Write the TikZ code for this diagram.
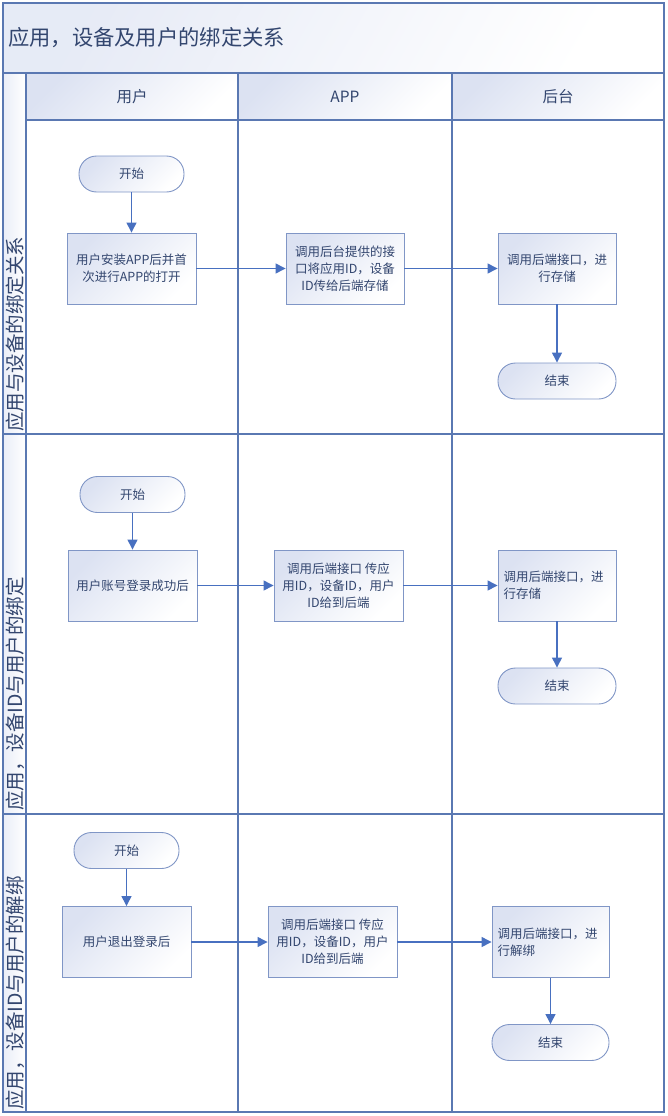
\documentclass[tikz,border=0pt]{standalone}
\usepackage{fontspec}
\setmainfont{Noto Sans CJK SC}
\usetikzlibrary{arrows.meta}
\definecolor{laneline}{HTML}{5A78B2}
\definecolor{arrowc}{HTML}{4870C0}
\definecolor{boxline}{HTML}{8096C6}
\definecolor{txtc}{HTML}{33466F}
\definecolor{shadec}{HTML}{DCE2F2}
\begin{document}
\begin{tikzpicture}[x=1pt,y=-1pt,
  shadefill/.style={top color=shadec, bottom color=white, shading angle=45},
  proc/.style={rectangle, draw=boxline, line width=0.9pt, shadefill, text=txtc,
    minimum height=71pt, minimum width=129pt, inner xsep=5pt, inner ysep=3pt,
    align=center, font=\fontsize{12.5}{17}\selectfont},
  procl/.style={proc, align=left, minimum width=118pt, text width=107pt},
  term/.style={rectangle, rounded corners=17.5pt, draw=boxline, line width=0.9pt, shadefill, text=txtc,
    minimum height=36pt, minimum width=105pt, font=\fontsize{12.5}{15}\selectfont},
  flow/.style={draw=arrowc, line width=1.3pt, -{Triangle[length=10pt,width=10pt]}},
  lanelabel/.style={rotate=90, anchor=west, text=txtc, inner sep=0pt,
    font=\fontsize{19.5}{20}\selectfont},
  headtext/.style={text=txtc, font=\fontsize{15.5}{16}\selectfont},
  lanel/.style={draw=laneline, line width=1.2pt}
]
\useasboundingbox (0,0) rectangle (667,1116);
% title band and header
\shade[top color=shadec!70, bottom color=white, shading angle=60] (3,3) rectangle (664,73);
\shade[top color=shadec, bottom color=white, shading angle=45] (26,73) rectangle (238,120);
\shade[top color=shadec, bottom color=white, shading angle=45] (238,73) rectangle (452,120);
\shade[top color=shadec, bottom color=white, shading angle=45] (452,73) rectangle (664,120);
\shade[top color=shadec!60, bottom color=white, shading angle=90] (3,73) rectangle (26,1112);
\node[anchor=west, text=txtc, inner sep=0pt, font=\fontsize{21.3}{23}\selectfont] (title) at (8,38) {应用，设备及用户的绑定关系};
\node[headtext] (h1) at (132,97) {用户};
\node[headtext] (h2) at (345,97) {APP};
\node[headtext] (h3) at (558,97) {后台};
% grid lines
\draw[lanel] (3,3) rectangle (664,1112);
\draw[lanel] (3,73) -- (664,73);
\draw[lanel] (26,120) -- (664,120);
\draw[lanel] (3,434) -- (664,434);
\draw[lanel] (3,814) -- (664,814);
\draw[lanel] (26,73) -- (26,1112);
\draw[lanel] (238,73) -- (238,1112);
\draw[lanel] (452,73) -- (452,1112);
% lane labels
\node[lanelabel] (l1) at (15,432) {应用与设备的绑定关系};
\node[lanelabel] (l2) at (15,811) {应用，设备ID与用户的绑定};
\node[lanelabel] (l3) at (15,1110) {应用，设备ID与用户的解绑};
% lane 1
\node[term] (s1) at (131.5,174) {开始};
\node[proc] (u1) at (131.5,268.5) {用户安装APP后并首\\次进行APP的打开};
\node[proc, minimum width=118pt] (a1) at (345,268.5) {调用后台提供的接\\口将应用ID，设备\\ID传给后端存储};
\node[proc, minimum width=118pt] (b1) at (557,268.5) {调用后端接口，进\\行存储};
\node[term, minimum width=118pt] (e1) at (557,381) {结束};
\draw[flow] (s1) -- (u1);
\draw[flow] (u1) -- (a1);
\draw[flow] (a1) -- (b1);
\draw[flow] (b1) -- (e1);
% lane 2
\node[term] (s2) at (132.5,494.5) {开始};
\node[proc] (u2) at (132.5,585.5) {用户账号登录成功后};
\node[proc] (a2) at (338.5,585.5) {调用后端接口 传应\\用ID，设备ID，用户\\ID给到后端};
\node[procl] (b2) at (557,585.5) {调用后端接口，进\\行存储};
\node[term, minimum width=118pt] (e2) at (557,686) {结束};
\draw[flow] (s2) -- (u2);
\draw[flow] (u2) -- (a2);
\draw[flow] (a2) -- (b2);
\draw[flow] (b2) -- (e2);
% lane 3
\node[term] (s3) at (126.5,850.5) {开始};
\node[proc] (u3) at (126.5,942) {用户退出登录后};
\node[proc] (a3) at (332.5,942) {调用后端接口 传应\\用ID，设备ID，用户\\ID给到后端};
\node[procl, minimum width=117pt, text width=106pt] (b3) at (550.5,942) {调用后端接口，进\\行解绑};
\node[term, minimum width=117pt] (e3) at (550.5,1042.5) {结束};
\draw[flow] (s3) -- (u3);
\draw[flow] (u3) -- (a3);
\draw[flow] (a3) -- (b3);
\draw[flow] (b3) -- (e3);
\end{tikzpicture}
\end{document}
